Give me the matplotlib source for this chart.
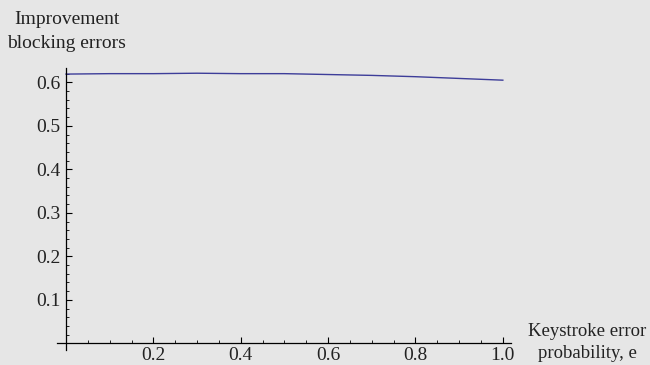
import numpy as np
import matplotlib.pyplot as plt
from matplotlib.ticker import MultipleLocator, FixedLocator

# improvement from blocking errors vs keystroke error probability
e_vals = [0.0, 0.1, 0.2, 0.3, 0.4, 0.5, 0.6, 0.7, 0.8, 0.9, 1.0]
improvement = [0.619, 0.620, 0.620, 0.621, 0.620, 0.620, 0.618, 0.616, 0.613, 0.609, 0.605]

x_ticks = [0.2, 0.4, 0.6, 0.8, 1.0]
y_ticks = [0.1, 0.2, 0.3, 0.4, 0.5, 0.6]

y_label_lines = ['Improvement', 'blocking errors']
x_label_lines = ['Keystroke error', 'probability, e']

plt.rcParams['font.family'] = ['Liberation Serif', 'DejaVu Serif']
bg = '#e6e6e6'

fig = plt.figure(figsize=(6.5, 3.65), dpi=100, facecolor=bg)
ax = fig.add_axes([0.0877, 0.0411, 0.698, 0.7726])
ax.set_facecolor(bg)

ax.plot(e_vals, improvement, color='#3d3d99', lw=1.0)

ax.set_xlim(-0.0206, 1.018)
ax.set_ylim(-0.0154, 0.633)

# axes through the origin
for s in ['top', 'right']:
    ax.spines[s].set_visible(False)
ax.spines['left'].set_position(('data', 0))
ax.spines['bottom'].set_position(('data', 0))
for s in ['left', 'bottom']:
    ax.spines[s].set_linewidth(0.9)
    ax.spines[s].set_color('black')

ax.xaxis.set_major_locator(FixedLocator(x_ticks))
ax.xaxis.set_minor_locator(MultipleLocator(0.05))
ax.yaxis.set_major_locator(FixedLocator(y_ticks))
ax.yaxis.set_minor_locator(MultipleLocator(0.02))
ax.set_xticklabels([f'{v:.1f}' for v in x_ticks])
ax.set_yticklabels([f'{v:.1f}' for v in y_ticks])

ax.tick_params(which='major', direction='in', length=4.5, width=0.8,
               labelsize=14, colors='black', labelcolor='#222222')
ax.tick_params(axis='y', which='major', pad=4)
ax.tick_params(axis='x', which='major', pad=3)
ax.tick_params(which='minor', direction='in', length=2.5, width=0.6)

# axis labels, one text per line
for line, yc in zip(y_label_lines, [20, 43]):
    fig.text(66.5 / 650, 1 - yc / 365, line, ha='center', va='center',
             fontsize=14, color='#222222')
for line, yc in zip(x_label_lines, [332, 354]):
    fig.text(587 / 650, 1 - yc / 365, line, ha='center', va='center',
             fontsize=13.5, color='#222222')

fig.savefig('out.png', dpi=100, facecolor=bg)
